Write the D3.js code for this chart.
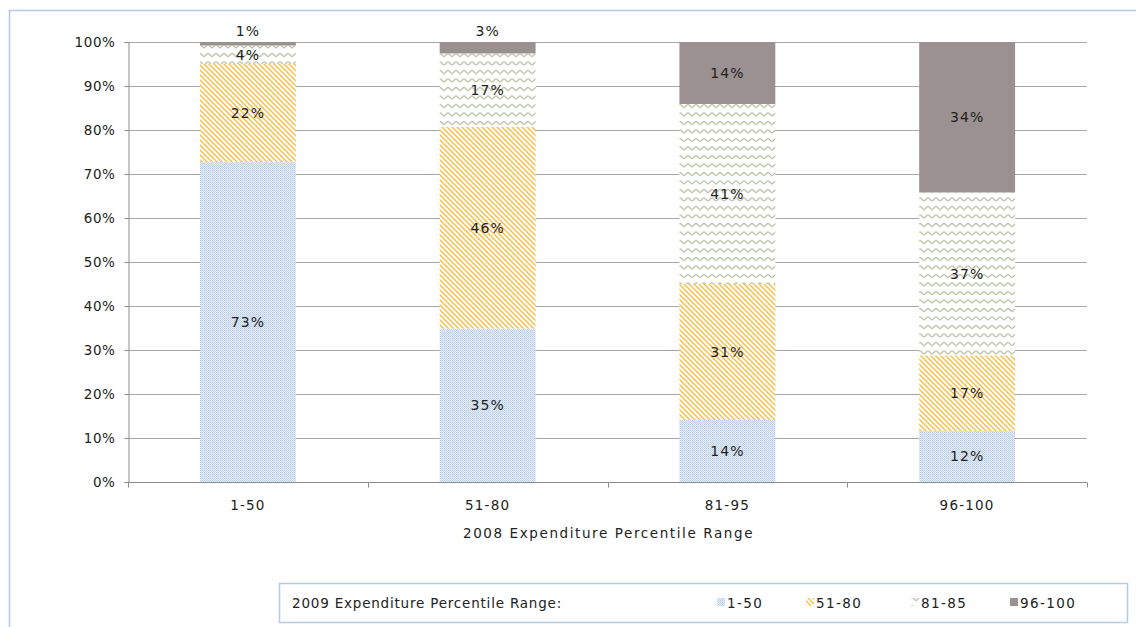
<!DOCTYPE html>
<html>
<head>
<meta charset="utf-8">
<script src="https://cdn.jsdelivr.net/npm/d3@7"></script>
<style>
  body { margin: 0; background: #fff; }
  svg text { font-family: "DejaVu Sans", sans-serif; fill: #222; }
</style>
</head>
<body>
<svg id="chart" width="1136" height="627"></svg>
<script>
// 2008 expenditure groups and the share of each that landed in each 2009 range
const categories = ["1-50", "51-80", "81-95", "96-100"];
const seriesNames = ["1-50", "51-80", "81-85", "96-100"];
const share150   = [0.727, 0.349, 0.141, 0.116];
const share5180  = [0.223, 0.458, 0.309, 0.172];
const share8185  = [0.042, 0.167, 0.409, 0.370];
const share96100 = [0.008, 0.026, 0.141, 0.342];
const yTicks = [0, 0.1, 0.2, 0.3, 0.4, 0.5, 0.6, 0.7, 0.8, 0.9, 1.0];
const xTitle = "2008 Expenditure Percentile Range";
const legendTitle = "2009 Expenditure Percentile Range:";

const seriesValues = [share150, share5180, share8185, share96100];
const rows = categories.map((c, i) => {
  const r = { cat: c };
  seriesNames.forEach((s, j) => r[s] = seriesValues[j][i]);
  return r;
});

const svg = d3.select("#chart");
const margin = { left: 128, right: 1087, top: 42, bottom: 482 };

// ---- fill patterns ----
const defs = svg.append("defs");
const pDot = defs.append("pattern").attr("id", "p0").attr("patternUnits", "userSpaceOnUse")
  .attr("width", 2).attr("height", 2);
pDot.append("rect").attr("width", 2).attr("height", 2).attr("fill", "#e4edf7");
pDot.append("rect").attr("width", 1).attr("height", 1).attr("fill", "#b9cde4");
pDot.append("rect").attr("x", 1).attr("y", 1).attr("width", 1).attr("height", 1).attr("fill", "#c4d6ea");

const pStripe = defs.append("pattern").attr("id", "p1").attr("patternUnits", "userSpaceOnUse")
  .attr("width", 5).attr("height", 5);
pStripe.append("rect").attr("width", 5).attr("height", 5).attr("fill", "#fff");
pStripe.append("path").attr("d", "M-1,-1 L6,6 M-1,4 L1,6 M4,-1 L6,1")
  .attr("stroke", "#f8c04a").attr("stroke-width", 1.5);

const pZig = defs.append("pattern").attr("id", "p2").attr("patternUnits", "userSpaceOnUse")
  .attr("width", 8).attr("height", 8.5);
pZig.append("rect").attr("width", 8).attr("height", 8.5).attr("fill", "#fff");
pZig.append("path")
  .attr("d", "M0,2.5 C1.5,2.5 2.5,5.5 4,5.5 C5.5,5.5 6.5,2.5 8,2.5")
  .attr("fill", "none").attr("stroke", "#a9b48f").attr("stroke-width", 1.1);

const fills = ["url(#p0)", "url(#p1)", "url(#p2)", "#9b9191"];

// ---- outer frame ----
svg.append("rect").attr("x", 9.5).attr("y", 10.5).attr("width", 1200).attr("height", 700)
  .attr("fill", "none").attr("stroke", "#b4cbe3").attr("stroke-width", 1.5);

// ---- scales ----
const x = d3.scaleBand().domain(categories).range([margin.left, margin.right]).paddingInner(0.6).paddingOuter(0.3);
const y = d3.scaleLinear().domain([0, 1]).range([margin.bottom, margin.top]);

// gridlines
svg.append("g").selectAll("line").data(yTicks.slice(1)).join("line")
  .attr("x1", margin.left).attr("x2", margin.right)
  .attr("y1", d => Math.round(y(d)) + 0.5).attr("y2", d => Math.round(y(d)) + 0.5)
  .attr("stroke", "#a6a6a6").attr("stroke-width", 1);

// ---- stacked bars ----
const stack = d3.stack().keys(seriesNames)(rows);
const gBars = svg.append("g");
stack.forEach((layer, j) => {
  gBars.append("g").selectAll("rect").data(layer).join("rect")
    .attr("x", d => x(d.data.cat))
    .attr("width", x.bandwidth())
    .attr("y", d => y(d[1]))
    .attr("height", d => y(d[0]) - y(d[1]))
    .attr("fill", fills[j]);
});

// ---- axes ----
const yAxis = d3.axisLeft(y).tickValues(yTicks).tickFormat(d3.format(".0%")).tickSize(4).tickPadding(9);
const gy = svg.append("g").attr("transform", `translate(${margin.left + 0.5},0)`).call(yAxis);
gy.select(".domain").attr("stroke", "#8c8c8c");
gy.selectAll(".tick line").attr("stroke", "#8c8c8c");
gy.selectAll("text").attr("font-size", 13.5).attr("letter-spacing", "0.6px").attr("fill", "#222");

const gx = svg.append("g").attr("transform", `translate(0,${margin.bottom + 0.5})`);
gx.append("line").attr("x1", margin.left).attr("x2", margin.right).attr("stroke", "#8c8c8c");
const bounds = d3.range(categories.length + 1).map(i => margin.left + i * (margin.right - margin.left) / categories.length);
gx.selectAll("line.b").data(bounds).join("line").attr("class", "b")
  .attr("x1", d => Math.round(d) + 0.5).attr("x2", d => Math.round(d) + 0.5)
  .attr("y1", 0).attr("y2", 5).attr("stroke", "#8c8c8c");
gx.selectAll("text").data(categories).join("text")
  .attr("x", d => x(d) + x.bandwidth() / 2).attr("y", 27)
  .attr("text-anchor", "middle").attr("font-size", 13.5).attr("letter-spacing", "1.2px")
  .text(d => d);

svg.append("text").attr("x", (margin.left + margin.right) / 2 + 1).attr("y", 538)
  .attr("text-anchor", "middle").attr("font-size", 13.5).attr("letter-spacing", "1.6px")
  .text(xTitle);

// ---- value labels ----
const pct = d3.format(".0%");
const gLab = svg.append("g");
stack.forEach((layer, j) => {
  gLab.append("g").selectAll("text").data(layer).join("text")
    .attr("x", d => x(d.data.cat) + x.bandwidth() / 2)
    .attr("y", d => {
      const h = y(d[0]) - y(d[1]);
      const mid = (y(d[0]) + y(d[1])) / 2;
      return h < 12 ? y(d[1]) - 6 : mid + 5;
    })
    .attr("text-anchor", "middle").attr("font-size", 14).attr("letter-spacing", "1px")
    .text(d => pct(d[1] - d[0]));
});

// ---- legend ----
const lg = svg.append("g");
lg.append("rect").attr("x", 279.5).attr("y", 583.5).attr("width", 848).attr("height", 39)
  .attr("fill", "#fff").attr("stroke", "#b4cbe3").attr("stroke-width", 1.5);
lg.append("text").attr("x", 292).attr("y", 608).attr("font-size", 13.5).attr("letter-spacing", "0.8px")
  .text(legendTitle);
const legendX = [717, 806, 911, 1010];
seriesNames.forEach((s, j) => {
  lg.append("rect").attr("x", legendX[j]).attr("y", 598).attr("width", 8).attr("height", 8)
    .attr("fill", fills[j]);
  lg.append("text").attr("x", legendX[j] + 10).attr("y", 608).attr("font-size", 13.5)
    .attr("letter-spacing", "1.4px").text(s);
});
</script>
</body>
</html>
